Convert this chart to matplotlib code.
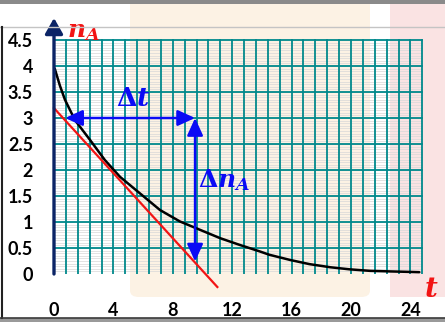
import matplotlib
matplotlib.use("Agg")
import matplotlib.pyplot as plt
from matplotlib.patches import FancyBboxPatch, Rectangle
import numpy as np

# data
t_curve = [0.05, 0.4, 0.74, 1.41, 2.42, 3.43, 4.44, 5.79, 7.14, 8.48, 9.83, 11.18,
           12.5, 13.9, 14.5, 15.9, 17.2, 18.6, 19.9, 21.3, 22.6, 24.0, 24.6]
n_curve = [3.95, 3.62, 3.35, 2.96, 2.58, 2.19, 1.87, 1.55, 1.23, 1.01, 0.85, 0.69,
           0.56, 0.43, 0.37, 0.27, 0.19, 0.13, 0.09, 0.06, 0.05, 0.04, 0.035]
t_tangent = [0.0, 11.0]
n_tangent = [3.19, -0.25]
dt_arrow = [0.75, 9.5]      # Δt arrow, at n = 3
dn_arrow = [3.0, 0.24]      # ΔnA arrow, at t = 9.5
x_ticks = [0, 4, 8, 12, 16, 20, 24]
y_ticks = [0, 0.5, 1, 1.5, 2, 2.5, 3, 3.5, 4, 4.5]
y_tick_labels = ["0", "0.5", "1", "1.5", "2", "2.5", "3", "3.5", "4", "4.5"]

NAVY = "#0b2466"
TEAL = "#00898c"
BLUE = "#0a0af5"
RED = "#f21414"
BEIGE = "#fcf2e4"
PINK = "#fae3e3"

plt.rcParams["mathtext.fontset"] = "custom"
plt.rcParams["mathtext.it"] = "DejaVu Serif:italic:bold"
plt.rcParams["mathtext.rm"] = "DejaVu Serif:bold"
plt.rcParams["mathtext.bf"] = "DejaVu Serif:bold"

W, H = 445, 322
fig = plt.figure(figsize=(W / 100, H / 100), dpi=100)
fig.patch.set_facecolor("white")

# watermark-ish background blocks
fig.add_artist(FancyBboxPatch((130 / W, 25 / H), 240 / W, 1.0, boxstyle="round,pad=0,rounding_size=0.02",
                              transform=fig.transFigure, fc=BEIGE, ec="none", zorder=0))
fig.add_artist(Rectangle((390 / W, 25 / H), 60 / W, 1.0, transform=fig.transFigure,
                         fc=PINK, ec="none", zorder=0))
# frame lines
fig.add_artist(Rectangle((0, 1 - 4 / H), 1, 4 / H, transform=fig.transFigure, fc="#8a8a8a", ec="none", zorder=1))
fig.add_artist(plt.Line2D([0, 1], [1 - 27 / H, 1 - 27 / H], transform=fig.transFigure, color="#c4c4c4", lw=1))
fig.add_artist(plt.Line2D([1.5 / W, 1.5 / W], [4 / H, 1 - 27 / H], transform=fig.transFigure, color="#222222", lw=1.5))
fig.add_artist(Rectangle((0, 0), 1, 4 / H, transform=fig.transFigure, fc="#9a9a9a", ec="none", zorder=1))
fig.add_artist(plt.Line2D([0, 1], [4 / H, 4 / H], transform=fig.transFigure, color="#3a3a3a", lw=1.2))

# axes: t=0 at px 54, n=0 at px 274 (from top)
x0, y0, px_t, px_n = 54, 274, 14.85, 52
ax = fig.add_axes([x0 / W, (H - y0) / H, (W - x0) / W, (y0 - 18) / H])
ax.set_xlim(0, (W - x0) / px_t)
ax.set_ylim(0, (y0 - 18) / px_n)
ax.patch.set_alpha(0)
for s in ax.spines.values():
    s.set_visible(False)

# fine grey rulings + teal grid
for yy in np.arange(0.05, 4.5, 0.05):
    ax.plot([0, 24.8], [yy, yy], color="#d8d8d8", lw=0.5, zorder=1)
for xx in np.arange(0.8, 24.81, 0.8):
    ax.plot([xx, xx], [0, 4.5], color=TEAL, lw=1.3, zorder=2)
for yy in np.arange(0.5, 4.51, 0.5):
    ax.plot([0, 24.8], [yy, yy], color=TEAL, lw=1.3, zorder=2)

# axes arrows
ax.annotate("", xy=(0, ax.get_ylim()[1]), xytext=(0, 0), zorder=6,
            arrowprops=dict(arrowstyle="-|>,head_length=9.5,head_width=5.4", mutation_scale=1,
                            lw=2.4, color=NAVY, shrinkA=0, shrinkB=0))
ax.annotate("", xy=(ax.get_xlim()[1] + 0.1, 0), xytext=(-0.08, 0), zorder=6,
            arrowprops=dict(arrowstyle="-|>,head_length=9.5,head_width=5.4", mutation_scale=1,
                            lw=2.4, color=NAVY, shrinkA=0, shrinkB=0))

ax.plot(t_curve, n_curve, color="black", lw=1.8, zorder=4, solid_capstyle="round")
ax.plot(t_tangent, n_tangent, color=RED, lw=1.6, zorder=5, clip_on=False)

arrow_style = "<|-|>,head_length=10.5,head_width=4.8"
ax.annotate("", xy=(dt_arrow[1], 3.0), xytext=(dt_arrow[0], 3.0), zorder=7,
            arrowprops=dict(arrowstyle=arrow_style, mutation_scale=1, lw=1.8, color=BLUE,
                            shrinkA=0, shrinkB=0))
ax.annotate("", xy=(9.5, dn_arrow[1]), xytext=(9.5, dn_arrow[0]), zorder=7,
            arrowprops=dict(arrowstyle=arrow_style, mutation_scale=1, lw=1.8, color=BLUE,
                            shrinkA=0, shrinkB=0))

ax.text(5.3, 3.37, r"$\Delta t$", color=BLUE, fontsize=19, ha="center", va="center", zorder=8)
ax.text(9.7, 1.67, r"$\Delta n_A$", color=BLUE, fontsize=18, ha="left", va="baseline", zorder=8)
ax.text(0.85, 4.56, r"$n_A$", color=RED, fontsize=18, ha="left", va="baseline", zorder=8)
ax.text(25.4, -0.29, r"$t$", color=RED, fontsize=20, ha="center", va="center", zorder=8,
        clip_on=False)

ax.set_xticks(x_ticks)
ax.set_xticklabels([str(v) for v in x_ticks])
ax.set_yticks(y_ticks)
ax.set_yticklabels(y_tick_labels)
ax.tick_params(length=0)
ax.tick_params(axis="x", pad=20)
ax.tick_params(axis="y", pad=15)
for lab in ax.get_xticklabels() + ax.get_yticklabels():
    lab.set_fontfamily("Lato")
    lab.set_fontweight("bold")
    lab.set_fontsize(13)
    lab.set_color("black")

fig.savefig("out.png", dpi=100, facecolor="white")
